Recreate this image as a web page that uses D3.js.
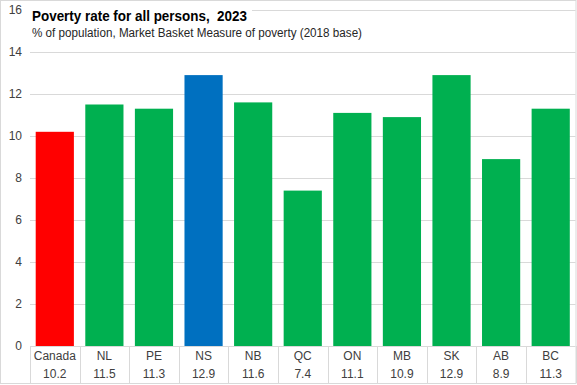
<!DOCTYPE html>
<html>
<head>
<meta charset="utf-8">
<script src="https://cdn.jsdelivr.net/npm/d3@7"></script>
<style>
  body { margin: 0; background: #fff; }
  svg { display: block; font-family: "Liberation Sans", Arial, sans-serif; }
</style>
</head>
<body>
<div id="chart"><svg></svg></div>
<script>
var categories = ["Canada", "NL", "PE", "NS", "NB", "QC", "ON", "MB", "SK", "AB", "BC"];
var values = [10.2, 11.5, 11.3, 12.9, 11.6, 7.4, 11.1, 10.9, 12.9, 8.9, 11.3];
var yTicks = [0, 2, 4, 6, 8, 10, 12, 14, 16];
var barColors = {Canada: "#ff0000", NS: "#0070c0"};

var width = 577, height = 385;
var svg = d3.select("#chart svg").attr("width", width).attr("height", height);

var x = d3.scaleBand().domain(categories).range([30, 575.5]).paddingInner(0.23).paddingOuter(0.115);
var xCell = d3.scaleBand().domain(categories).range([30, 575.5]);
var y = d3.scaleLinear().domain([0, 16]).range([346, 10]);

// gridlines
svg.selectAll("line.grid")
  .data(yTicks.filter(function(d) { return d > 0; }))
  .enter().append("line")
  .attr("x1", 30).attr("x2", 575.5)
  .attr("y1", function(d) { return Math.round(y(d)) + 0.5; })
  .attr("y2", function(d) { return Math.round(y(d)) + 0.5; })
  .attr("stroke", "#d9d9d9").attr("stroke-width", 1);

// y labels
svg.selectAll("text.ytick")
  .data(yTicks)
  .enter().append("text")
  .attr("x", 22).attr("y", function(d) { return y(d) + 4; })
  .attr("text-anchor", "end")
  .attr("font-size", 12).attr("fill", "#404040")
  .text(function(d) { return d; });

// bars
svg.selectAll("rect.bar")
  .data(categories)
  .enter().append("rect")
  .attr("x", function(d) { return x(d); })
  .attr("width", x.bandwidth())
  .attr("y", function(d, i) { return y(values[i]); })
  .attr("height", function(d, i) { return y(0) - y(values[i]); })
  .attr("fill", function(d) { return barColors[d] || "#00b050"; });

// baseline
svg.append("line")
  .attr("x1", 30).attr("x2", 575.5).attr("y1", 346.5).attr("y2", 346.5)
  .attr("stroke", "#d9d9d9");

// table cell borders
svg.selectAll("line.cell")
  .data(categories.concat(["end"]))
  .enter().append("line")
  .attr("x1", function(d) { return Math.round(d === "end" ? 575.5 : xCell(d)) + 0.5; })
  .attr("x2", function(d) { return Math.round(d === "end" ? 575.5 : xCell(d)) + 0.5; })
  .attr("y1", 346).attr("y2", 383)
  .attr("stroke", "#d9d9d9");

svg.selectAll("text.cat")
  .data(categories)
  .enter().append("text")
  .attr("x", function(d) { return xCell(d) + xCell.bandwidth() / 2; })
  .attr("y", 360)
  .attr("text-anchor", "middle")
  .attr("font-size", 12).attr("fill", "#404040")
  .text(function(d) { return d; });

svg.selectAll("text.val")
  .data(categories)
  .enter().append("text")
  .attr("x", function(d) { return xCell(d) + xCell.bandwidth() / 2; })
  .attr("y", 378)
  .attr("text-anchor", "middle")
  .attr("font-size", 12).attr("fill", "#404040")
  .text(function(d, i) { return values[i]; });

// title with white backing
svg.append("rect").attr("x", 30).attr("y", 4).attr("width", 222).attr("height", 20).attr("fill", "#fff");
svg.append("text")
  .attr("x", 32).attr("y", 21)
  .attr("font-size", 15).attr("font-weight", "bold").attr("fill", "#000")
  .attr("xml:space", "preserve")
  .attr("textLength", 215).attr("lengthAdjust", "spacingAndGlyphs")
  .text("Poverty rate for all persons,  2023");
svg.append("text")
  .attr("x", 32).attr("y", 37)
  .attr("font-size", 12).attr("fill", "#262626")
  .attr("textLength", 330).attr("lengthAdjust", "spacingAndGlyphs")
  .text("% of population, Market Basket Measure of poverty (2018 base)");

// outer border
svg.append("rect")
  .attr("x", 0.5).attr("y", 0.5).attr("width", 575.5).attr("height", 383)
  .attr("fill", "none").attr("stroke", "#d9d9d9");
</script>
</body>
</html>
